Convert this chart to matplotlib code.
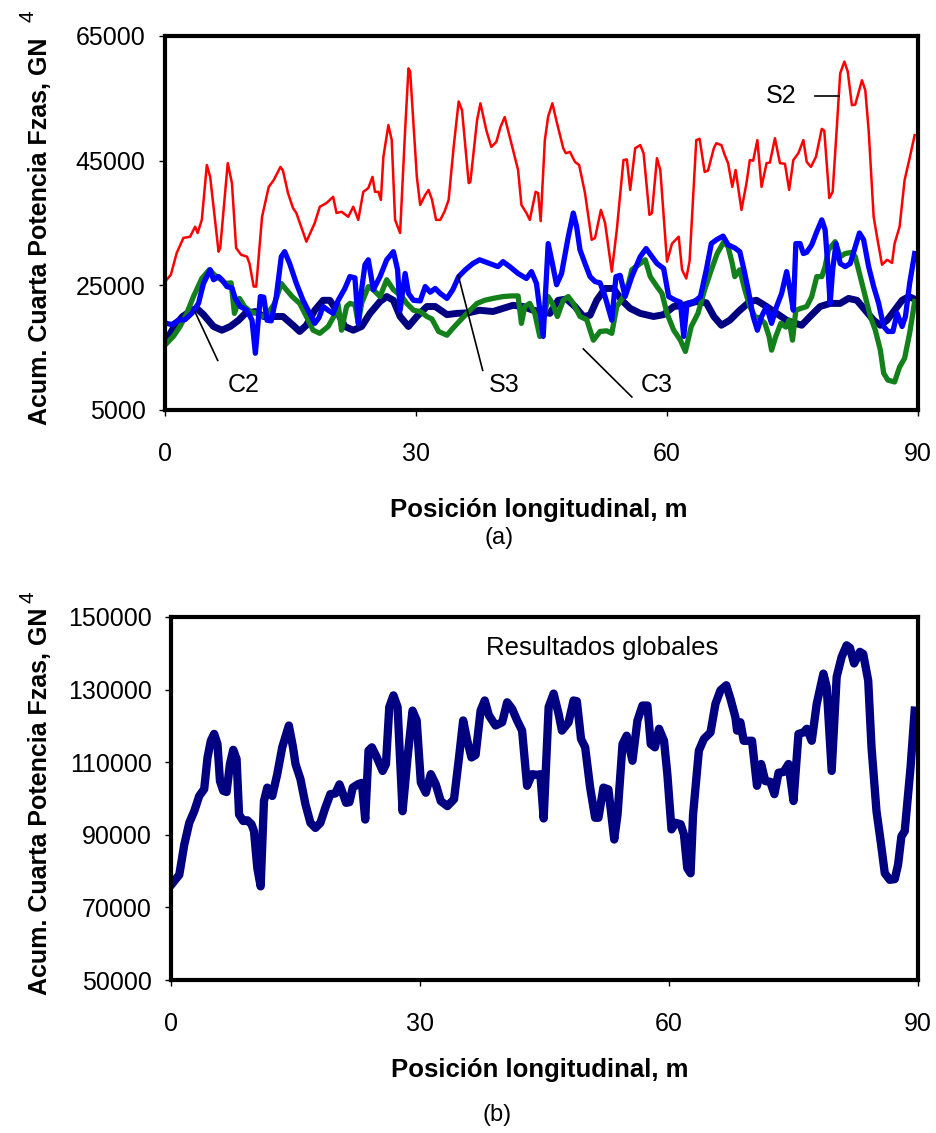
import numpy as np
import matplotlib
matplotlib.use('Agg')
import matplotlib.pyplot as plt

plt.rcParams['font.family'] = ['Liberation Sans', 'DejaVu Sans']

### DATA ###

# (a) position m, accumulated 4th power of forces, GN^4
s2 = [(0.2, 25900), (0.7, 26700), (1.4, 30200), (2.2, 32600), (3.0, 32800), (3.6, 34400),
      (3.9, 33400), (4.4, 35500), (5.0, 44300), (5.4, 42400), (6.4, 30400), (6.6, 31000),
      (7.5, 44600), (8.0, 41400), (8.5, 31000), (9.1, 29900), (9.8, 29600), (10.1, 28500),
      (10.6, 24800), (10.9, 24800), (11.6, 36000), (12.4, 40800), (13.0, 41900), (13.8, 44000),
      (14.1, 43400), (14.7, 39800), (15.3, 37400), (15.7, 36600), (16.9, 32000), (17.9, 35000),
      (18.5, 37600), (19.3, 38200), (20.1, 39200), (20.5, 36600), (21.1, 36800), (21.9, 36000),
      (22.5, 37600), (23.1, 35500), (23.7, 40000), (24.3, 40600), (24.8, 42400), (25.1, 40000),
      (25.5, 40000), (25.8, 38700), (26.1, 45600), (26.7, 50700), (27.1, 48300), (27.5, 35500),
      (28.1, 33400), (28.7, 49900), (29.1, 59800), (29.3, 59300), (30.1, 42400), (30.5, 37900),
      (31.1, 39500), (31.5, 40300), (31.9, 38800), (32.4, 35500), (32.9, 35500), (33.4, 36800),
      (33.9, 38700), (34.5, 47200), (35.1, 54500), (35.5, 53100), (36.3, 41400), (36.5, 41600),
      (37.3, 51500), (37.7, 54200), (38.4, 49900), (39.0, 47200), (39.6, 48000), (40.1, 50400),
      (40.6, 52000), (41.0, 49900), (41.6, 46700), (42.2, 43500), (42.6, 37900), (43.2, 36600),
      (43.6, 35500), (44.3, 40000), (44.6, 39800), (44.9, 35300), (45.4, 48300), (45.8, 52100),
      (46.3, 54200), (46.8, 51300), (47.6, 47000), (47.9, 46200), (48.4, 46400), (49.0, 44800),
      (49.5, 44300), (50.2, 39800), (51.0, 32300), (51.4, 32600), (52.1, 37100), (52.6, 35000),
      (53.4, 27200), (54.0, 33900), (54.8, 45100), (55.2, 45200), (55.6, 40300), (56.2, 47000),
      (56.8, 47500), (57.2, 46200), (57.9, 36300), (58.2, 36600), (58.8, 45400), (59.2, 43500),
      (60.0, 28800), (60.6, 31700), (61.4, 32800), (61.8, 27500), (62.3, 26100), (62.7, 28900),
      (63.5, 48300), (63.9, 48500), (64.5, 43200), (64.9, 43400), (65.6, 47000), (65.9, 47800),
      (66.5, 47500), (66.9, 45900), (67.3, 44600), (67.8, 40800), (68.2, 43500), (68.9, 37100),
      (69.5, 41400), (69.9, 45100), (70.3, 45000), (70.8, 48300), (71.3, 40800), (71.9, 44600),
      (72.3, 44700), (72.9, 48600), (73.5, 44600), (74.1, 44500), (74.6, 40300), (75.1, 45100),
      (75.7, 46200), (76.3, 48300), (76.7, 44800), (77.2, 44000), (77.8, 45600), (78.1, 47500),
      (78.5, 50100), (78.8, 49800), (79.4, 39000), (79.8, 40000), (80.3, 50400), (80.7, 59000),
      (81.2, 60900), (81.6, 59300), (82.1, 53900), (82.5, 54000), (83.3, 57900), (83.7, 56300),
      (84.1, 49900), (84.7, 36000), (85.1, 32800), (85.7, 28300), (86.3, 29100), (86.9, 28600),
      (87.2, 31700), (87.8, 34400), (88.4, 41900), (89.0, 45400), (89.6, 49100)]

s3 = [(0.2, 18900), (0.8, 18700), (1.6, 19400), (2.4, 19500), (3.2, 20500), (4.0, 22100),
      (4.6, 25300), (5.4, 27500), (5.8, 25900), (6.4, 26400), (6.8, 25900), (7.4, 24800),
      (8.0, 24600), (8.4, 22900), (9.0, 21600), (9.8, 21000), (10.4, 19400), (10.8, 14100),
      (11.4, 23200), (11.8, 23100), (12.2, 19400), (12.7, 19300), (13.3, 23200), (13.9, 29600),
      (14.3, 30400), (14.9, 28500), (15.7, 25300), (16.5, 22600), (17.3, 20500), (17.9, 18900),
      (18.4, 19800), (18.9, 21600), (19.5, 21000), (20.1, 20500), (20.7, 22600), (21.5, 24500),
      (22.1, 26400), (22.7, 26200), (23.1, 18900), (23.5, 24300), (23.9, 28300), (24.3, 29100),
      (24.9, 24300), (25.7, 26400), (26.5, 29100), (27.3, 30400), (27.8, 27500), (28.1, 21000),
      (28.7, 26900), (29.1, 23700), (29.7, 22600), (30.5, 22500), (31.1, 24800), (31.7, 23900),
      (32.3, 24500), (32.9, 23700), (33.7, 22900), (34.4, 24300), (35.1, 26400), (35.9, 27500),
      (36.8, 28500), (37.6, 29100), (38.8, 28500), (39.8, 28000), (40.4, 28800), (41.2, 28000),
      (42.2, 26900), (43.2, 26100), (43.8, 27200), (44.4, 25300), (44.8, 21000), (45.2, 16800),
      (45.8, 31700), (46.3, 28500), (46.8, 25100), (47.4, 26900), (48.2, 32800), (48.8, 36600),
      (49.2, 34400), (49.6, 30700), (50.2, 28500), (50.8, 26400), (51.4, 25600), (52.0, 25400),
      (52.6, 23200), (53.4, 19400), (53.9, 26400), (54.4, 26600), (55.0, 23200), (55.8, 26400),
      (56.8, 29600), (57.5, 30900), (58.2, 29600), (58.8, 28500), (59.6, 27700), (60.2, 23200),
      (61.0, 22600), (61.6, 22300), (62.0, 16800), (62.4, 22100), (63.2, 22300), (64.0, 23200),
      (64.7, 27500), (65.3, 31700), (65.9, 32300), (66.7, 32900), (67.3, 31500), (68.1, 31000),
      (68.7, 30400), (69.2, 27500), (69.7, 24300), (70.3, 20000), (70.8, 17800), (71.3, 20000),
      (71.9, 21600), (72.5, 18900), (73.1, 21600), (73.7, 23700), (74.3, 27200), (74.7, 24300),
      (75.1, 21000), (75.4, 31700), (75.9, 31700), (76.3, 30100), (76.7, 30300), (77.3, 31500),
      (77.9, 33600), (78.5, 35500), (78.9, 33900), (79.2, 28500), (79.5, 22100), (79.8, 27500),
      (80.2, 31700), (80.7, 28500), (81.3, 28000), (81.9, 28500), (82.5, 31200), (83.0, 33400),
      (83.5, 32300), (84.1, 28000), (84.7, 24800), (85.3, 22100), (85.9, 18400), (86.4, 17600),
      (87.0, 17600), (87.5, 20500), (88.1, 18400), (88.5, 20000), (89.0, 25300), (89.6, 30100)]

c3 = [(0.2, 15700), (1.0, 16800), (1.8, 18400), (2.6, 20500), (3.4, 23200), (4.4, 26100),
      (5.3, 27500), (5.9, 26700), (6.7, 25900), (7.3, 25300), (7.9, 25400), (8.3, 20500),
      (8.9, 22900), (9.5, 21600), (10.2, 20800), (11.0, 20500), (11.6, 20000), (12.3, 20500),
      (13.1, 22100), (13.9, 25300), (14.5, 24300), (15.2, 23200), (16.1, 22100), (16.9, 20000),
      (17.7, 17800), (18.5, 17300), (19.5, 18400), (20.3, 20300), (20.7, 21900), (21.1, 17800),
      (21.7, 21600), (22.1, 22100), (22.7, 21900), (23.1, 18900), (23.5, 22100), (24.3, 24800),
      (24.9, 24300), (25.7, 23200), (26.5, 25900), (27.3, 24300), (28.3, 23200), (28.9, 22100),
      (29.7, 21000), (30.5, 20800), (31.3, 20000), (31.9, 19600), (32.7, 17600), (33.7, 17000),
      (34.4, 18100), (35.3, 19400), (36.3, 20800), (37.3, 22100), (38.2, 22600), (39.2, 22900),
      (40.4, 23200), (41.4, 23300), (42.2, 23300), (42.6, 18900), (43.0, 21600), (43.6, 22100),
      (44.2, 20500), (44.8, 16800), (45.8, 23200), (46.3, 22100), (46.9, 20000), (47.6, 22600),
      (48.2, 23200), (48.8, 22100), (49.6, 20000), (50.4, 19500), (51.2, 16200), (52.0, 17600),
      (52.8, 17700), (53.4, 17300), (54.0, 21600), (54.8, 23200), (55.4, 25300), (55.8, 27500),
      (56.8, 28500), (57.4, 29100), (58.0, 26400), (58.8, 24800), (59.4, 23700), (60.0, 20500),
      (60.8, 17800), (61.6, 16200), (62.2, 14400), (62.9, 18400), (63.7, 20500), (64.5, 24300),
      (65.3, 27500), (66.0, 30100), (66.8, 32000), (67.3, 31200), (67.8, 28500), (68.1, 26400),
      (68.7, 27500), (69.3, 24300), (69.9, 21600), (70.5, 20000), (71.1, 19700), (71.7, 18900),
      (72.2, 16800), (72.5, 14600), (73.0, 16800), (73.6, 18900), (74.2, 18300), (74.6, 19400),
      (75.0, 16200), (75.4, 21000), (76.0, 21300), (76.7, 21600), (77.3, 23200), (77.9, 26400),
      (78.5, 26400), (78.9, 28000), (79.3, 30700), (80.1, 32000), (80.7, 29600), (81.3, 30100),
      (82.1, 30300), (82.5, 29600), (83.1, 26400), (83.7, 23200), (84.3, 20000), (84.9, 17800),
      (85.5, 14600), (85.9, 10900), (86.4, 9800), (87.2, 9500), (87.8, 11900), (88.4, 13300),
      (89.0, 17300), (89.6, 22400)]

c2 = [(0.2, 16200), (1.1, 18400), (2.1, 20000), (3.2, 21000), (3.8, 21300), (4.6, 20300),
      (5.8, 18400), (6.8, 17800), (7.8, 18400), (8.8, 19400), (9.6, 20500), (10.8, 20800),
      (11.8, 20000), (13.0, 20000), (14.1, 20000), (15.3, 18600), (16.1, 17600), (16.9, 18600),
      (17.9, 21000), (18.9, 22600), (19.7, 22600), (20.5, 21000), (21.5, 18400), (22.5, 17800),
      (23.5, 18400), (24.5, 20500), (25.7, 22400), (26.5, 23200), (27.3, 22600), (28.1, 20000),
      (29.1, 18400), (30.1, 20000), (31.3, 21600), (32.3, 21600), (33.7, 20300), (34.9, 20500),
      (36.3, 20600), (37.6, 21000), (39.2, 20800), (40.4, 21300), (41.6, 21800), (42.8, 21600),
      (44.0, 21000), (45.2, 20800), (46.0, 20500), (47.0, 22600), (48.0, 22800), (49.0, 21600),
      (50.0, 20000), (50.8, 20200), (51.6, 22600), (52.6, 24500), (53.6, 24500), (54.6, 22600),
      (55.6, 21300), (56.8, 20500), (58.4, 20000), (59.6, 20300), (60.8, 21600), (62.0, 21800),
      (63.5, 22400), (64.7, 22200), (65.6, 20000), (66.5, 18600), (67.5, 19400), (68.7, 21000),
      (69.9, 22400), (70.7, 22600), (71.9, 21600), (73.1, 20500), (74.3, 19400), (75.1, 19000),
      (76.1, 18600), (77.1, 20000), (78.3, 21600), (79.5, 22100), (80.7, 22100), (81.7, 22900),
      (82.7, 22600), (83.7, 21000), (84.7, 19400), (85.5, 18600), (86.3, 19400), (87.2, 21000),
      (88.1, 22600), (88.9, 23200), (89.9, 22600)]

# (b) global results
glob = [(0.2, 76700), (1.0, 79000), (1.6, 87300), (2.2, 93300), (2.8, 96500), (3.4, 100700),
        (4.0, 102600), (4.4, 111300), (4.8, 115900), (5.2, 117800), (5.6, 115000), (5.9, 104800),
        (6.3, 102100), (6.7, 101800), (7.1, 109500), (7.5, 113400), (7.9, 110900), (8.2, 95600),
        (8.7, 93800), (9.2, 94000), (9.7, 92900), (10.0, 91000), (10.4, 80800), (10.8, 75800),
        (11.2, 99300), (11.6, 103000), (12.2, 100700), (12.8, 106700), (13.4, 114100), (14.2, 120100),
        (14.7, 114100), (15.0, 109500), (15.6, 105300), (16.2, 98400), (16.8, 93300), (17.4, 91900),
        (18.0, 93300), (18.6, 97500), (19.2, 101200), (19.8, 101400), (20.3, 103900), (20.7, 101400),
        (21.1, 98800), (21.5, 99000), (21.9, 103000), (22.5, 103900), (23.0, 104300), (23.4, 94200),
        (23.8, 113200), (24.2, 114100), (24.8, 111300), (25.5, 107600), (25.9, 109500), (26.3, 125200),
        (26.8, 128400), (27.3, 125200), (27.9, 96500), (28.5, 111300), (29.1, 124200), (29.6, 121500),
        (30.1, 104400), (30.7, 101600), (31.3, 106700), (31.9, 103900), (32.5, 99300), (33.3, 97900),
        (34.1, 99800), (34.7, 111300), (35.2, 121500), (35.7, 115900), (36.2, 111300), (36.7, 112000),
        (37.3, 124200), (37.8, 127000), (38.3, 122900), (39.1, 120100), (39.9, 121000), (40.5, 126500),
        (41.1, 124700), (41.7, 121500), (42.3, 118700), (42.9, 103500), (43.5, 106700), (44.1, 106500),
        (44.5, 106700), (44.9, 94500), (45.5, 125200), (46.1, 128900), (46.7, 123300), (47.1, 118700),
        (47.9, 121000), (48.5, 127000), (48.9, 126800), (49.4, 116400), (49.9, 114100), (50.5, 103000),
        (51.1, 94700), (51.5, 94700), (52.1, 103000), (52.7, 102500), (53.4, 88700), (53.8, 95600),
        (54.4, 115000), (54.9, 117300), (55.6, 110400), (56.2, 121500), (56.8, 125600), (57.4, 125600),
        (57.8, 115000), (58.3, 114100), (58.8, 119200), (59.4, 115900), (59.8, 106700), (60.3, 91500),
        (60.8, 93300), (61.4, 92900), (61.8, 90100), (62.2, 80800), (62.6, 79400), (62.9, 95600),
        (63.6, 113200), (64.2, 116400), (65.0, 118200), (65.6, 126100), (66.2, 129800), (66.9, 131200),
        (67.4, 127500), (68.0, 122400), (68.2, 118700), (68.6, 121000), (69.0, 115900), (69.4, 115900),
        (70.0, 115900), (70.6, 103500), (71.1, 109500), (71.6, 104800), (72.2, 104600), (72.7, 101200),
        (73.2, 107100), (73.8, 107300), (74.4, 109500), (75.0, 99300), (75.6, 117800), (76.2, 118200),
        (76.6, 119200), (77.2, 115900), (77.8, 126100), (78.6, 134400), (79.0, 130700), (79.6, 107600),
        (80.2, 133500), (80.8, 139000), (81.4, 142200), (81.8, 141500), (82.3, 137200), (83.0, 140400),
        (83.4, 139800), (84.0, 132500), (84.4, 114100), (85.0, 96500), (85.5, 88200), (86.0, 79400),
        (86.6, 77600), (87.2, 77800), (87.6, 81800), (88.0, 89600), (88.4, 91000), (89.1, 108500),
        (89.6, 124200)]

top_yticks = [5000, 25000, 45000, 65000]
bot_yticks = [50000, 70000, 90000, 110000, 130000, 150000]
xticks = [0, 30, 60, 90]

ylab = 'Acum. Cuarta Potencia Fzas, GN'
xlab = 'Posición longitudinal, m'


### HELPER ###

def style_axes(ax, yticks):
    """ frame, ticks and limits like the old spreadsheet chart """
    for sp in ax.spines.values():
        sp.set_linewidth(3)
    ax.set_xlim(0, 90)
    ax.set_xticks(xticks)
    ax.set_yticks(yticks)
    ax.set_ylim(yticks[0], yticks[-1])
    ax.tick_params(axis='both', direction='out', length=4, width=1, labelsize=18)
    ax.tick_params(axis='x', pad=19)
    ax.tick_params(axis='y', pad=10)

def pick(ax, x0, y0, x1, y1):
    ax.plot([x0, x1], [y0, y1], color='black', lw=1.2, clip_on=False)

def ylabel_px(fig, yc, ytop):
    """ rotated axis title with a raised 4 above its end, in figure pixels """
    fig.text(40 / 936, 1 - yc / H, ylab, rotation=90, ha='center', va='center',
             fontsize=18, fontweight='bold')
    fig.text(28 / 936, 1 - ytop / H, '4', rotation=90, ha='center', va='center',
             fontsize=15)


### PLOT ###

H = 1133.0
fig = plt.figure(figsize=(9.36, 11.33), dpi=100)

ax1 = fig.add_axes([165 / 936, 1 - 410 / H, 753 / 936, 374 / H])
for data, col, lw in [(c2, '#000080', 5.0), (c3, '#13801b', 3.8),
                      (s2, '#ff0000', 1.8), (s3, '#0000ff', 3.8)]:
    xs, ys = np.array(data).T
    ax1.plot(xs, ys, color=col, lw=lw, solid_joinstyle='round')
style_axes(ax1, top_yticks)

ax1.text(9.4, 9000, 'C2', fontsize=18, ha='center', va='center')
pick(ax1, 3.6, 20700, 6.3, 12950)
ax1.text(40.6, 9000, 'S3', fontsize=18, ha='center', va='center')
pick(ax1, 35.05, 26600, 37.97, 11360)
ax1.text(58.8, 9000, 'C3', fontsize=18, ha='center', va='center')
pick(ax1, 50.0, 14800, 55.8, 7090)
ax1.text(73.7, 55300, 'S2', fontsize=18, ha='center', va='center')
pick(ax1, 77.7, 55400, 80.5, 55400)

ax2 = fig.add_axes([171 / 936, 1 - 980 / H, 747 / 936, 363 / H])
xs, ys = np.array(glob).T
ax2.plot(xs, ys, color='#000080', lw=6.0, solid_joinstyle='round')
style_axes(ax2, bot_yticks)
ax2.text(0.577, 0.915, 'Resultados globales', transform=ax2.transAxes,
         fontsize=18.5, ha='center', va='center')

# labels placed in figure pixels
ylabel_px(fig, 231, 16)
ylabel_px(fig, 801, 597)
fig.text(539 / 936, 1 - 510 / H, xlab, ha='center', va='center',
         fontsize=18.5, fontweight='bold')
fig.text(499 / 936, 1 - 538 / H, '(a)', ha='center', va='center', fontsize=17)
fig.text(540 / 936, 1 - 1070 / H, xlab, ha='center', va='center',
         fontsize=18.5, fontweight='bold')
fig.text(497 / 936, 1 - 1115 / H, '(b)', ha='center', va='center', fontsize=17)

fig.savefig('out.png', dpi=100, facecolor='white')
